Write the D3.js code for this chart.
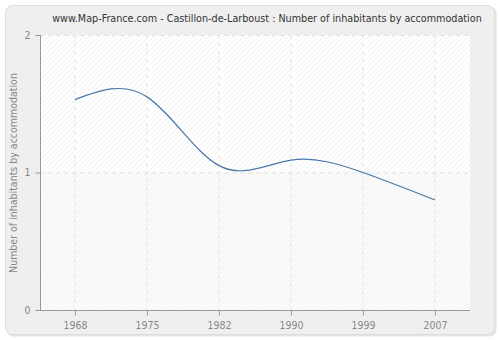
<!DOCTYPE html>
<html>
<head>
<meta charset="utf-8">
<script src="https://cdn.jsdelivr.net/npm/d3@7"></script>
<style>
  html, body { margin: 0; padding: 0; background: #ffffff; }
  svg { display: block; }
  text { font-family: "DejaVu Sans Condensed", "DejaVu Sans", Verdana, sans-serif; font-stretch: condensed; }
</style>
</head>
<body>
<svg id="chart" width="500" height="340"></svg>
<script>
// Census years and average number of inhabitants per dwelling
const years = ["1968", "1975", "1982", "1990", "1999", "2007"];
const inhabitants = [1.53, 1.55, 1.05, 1.09, 1.00, 0.80];
const yTicks = [0, 1, 2];

const title = "www.Map-France.com - Castillon-de-Larboust : Number of inhabitants by accommodation";
const yLabel = "Number of inhabitants by accommodation";

const svg = d3.select("#chart");
const plot = { left: 40, right: 470, top: 35, bottom: 310 };

// Outer rounded panel with soft shadow
svg.append("rect")
  .attr("x", 6.5).attr("y", 6.5).attr("width", 490).attr("height", 330)
  .attr("rx", 7).attr("fill", "#e4e4e4");
svg.append("rect")
  .attr("x", 5.5).attr("y", 5.5).attr("width", 489).attr("height", 329)
  .attr("rx", 7).attr("fill", "#efefef").attr("stroke", "#dddddd");

// Diagonal hatch patterns for the plot background
const defs = svg.append("defs");
function hatch(id, bg, line) {
  const p = defs.append("pattern")
    .attr("id", id).attr("patternUnits", "userSpaceOnUse")
    .attr("width", 5).attr("height", 5);
  p.append("rect").attr("width", 5).attr("height", 5).attr("fill", bg);
  p.append("path").attr("d", "M-1,1 L1,-1 M0,5 L5,0 M4,6 L6,4")
    .attr("stroke", line).attr("stroke-width", 0.8);
}
hatch("hatchUpper", "#ffffff", "#ececec");
hatch("hatchLower", "#fafafa", "#f2f2f2");

const x = d3.scalePoint()
  .domain(years)
  .range([plot.left, plot.right])
  .padding(0.486);

const y = d3.scaleLinear()
  .domain([0, 2])
  .range([plot.bottom, plot.top]);

svg.append("rect")
  .attr("x", plot.left).attr("y", plot.top)
  .attr("width", plot.right - plot.left).attr("height", y(1) - plot.top)
  .attr("fill", "url(#hatchUpper)");
svg.append("rect")
  .attr("x", plot.left).attr("y", y(1))
  .attr("width", plot.right - plot.left).attr("height", plot.bottom - y(1))
  .attr("fill", "url(#hatchLower)");

// Gridlines
const grid = svg.append("g").attr("stroke", "#e2e2e2").attr("stroke-dasharray", "4,4");
grid.selectAll("line.v").data(years).join("line")
  .attr("x1", d => x(d)).attr("x2", d => x(d))
  .attr("y1", plot.top).attr("y2", plot.bottom);
grid.selectAll("line.h").data(yTicks.filter(t => t > 0)).join("line")
  .attr("x1", plot.left).attr("x2", plot.right)
  .attr("y1", d => y(d) + 0.5).attr("y2", d => y(d) + 0.5);

// Series line
const line = d3.line()
  .x((d, i) => x(years[i]))
  .y(d => y(d))
  .curve(d3.curveNatural);
svg.append("path")
  .datum(inhabitants)
  .attr("fill", "none")
  .attr("stroke", "#4a77a8")
  .attr("stroke-width", 1.2)
  .attr("d", line);

// Axes
const xAxis = svg.append("g")
  .attr("transform", `translate(0,${plot.bottom + 0.5})`)
  .call(d3.axisBottom(x).tickSize(5).tickSizeOuter(0).tickPadding(6));
const yAxis = svg.append("g")
  .attr("transform", `translate(${plot.left + 0.5},0)`)
  .call(d3.axisLeft(y).tickValues(yTicks).tickFormat(d3.format("d")).tickSize(5).tickSizeOuter(0).tickPadding(5));

[xAxis, yAxis].forEach(a => {
  a.select(".domain").attr("stroke", "#999999");
  a.selectAll(".tick line").attr("stroke", "#999999");
  a.selectAll(".tick text").attr("fill", "#888888").attr("font-size", 10.5)
    .style("font-family", "'DejaVu Sans Condensed', 'DejaVu Sans', sans-serif")
    .style("font-stretch", "condensed");
});
xAxis.select(".domain").attr("d", `M${plot.left},0H${plot.right}`);
yAxis.select(".domain").attr("d", `M0,${plot.bottom}V${plot.top}`);

// Title and axis label
svg.append("text")
  .attr("x", 267).attr("y", 22)
  .attr("text-anchor", "middle")
  .attr("font-size", 10.7)
  .attr("fill", "#333333")
  .text(title);

svg.append("text")
  .attr("transform", `translate(17,173) rotate(-90)`)
  .attr("text-anchor", "middle")
  .attr("font-size", 10.5)
  .attr("fill", "#888888")
  .text(yLabel);
</script>
</body>
</html>
